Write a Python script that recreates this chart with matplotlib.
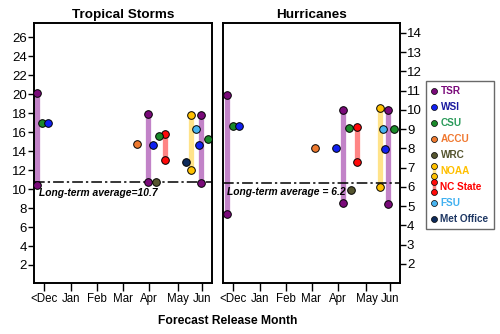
import matplotlib
matplotlib.use("Agg")
import matplotlib.pyplot as plt
from matplotlib.lines import Line2D
from matplotlib.legend_handler import HandlerBase

plt.rcParams['font.family'] = ['Liberation Sans', 'DejaVu Sans']

# Month axis (Dec = 0)
month_labels = ['<Dec', 'Jan', 'Feb', 'Mar', 'Apr', 'May', 'Jun']
month_ticks = [0, 1.02, 2.01, 3.0, 4.0, 5.1, 6.0]

agencies = ['TSR', 'WSI', 'CSU', 'ACCU', 'WRC', 'NOAA', 'NC State', 'FSU', 'Met Office']
dot_colors = {'TSR': '#7a0a7a', 'WSI': '#1020f0', 'CSU': '#1a8a2a', 'ACCU': '#ee7a30',
              'WRC': '#55552f', 'NOAA': '#ffc000', 'NC State': '#ff0a0a',
              'FSU': '#48b4f0', 'Met Office': '#0d2a5a'}
bar_colors = {'TSR': '#c283c8', 'NOAA': '#ffe38a', 'NC State': '#ff8585'}
text_colors = {'TSR': '#7a0a7a', 'WSI': '#1a1aa0', 'CSU': '#2a9a5a', 'ACCU': '#f07830',
               'WRC': '#55552f', 'NOAA': '#ffc000', 'NC State': '#ff0000',
               'FSU': '#40b0f0', 'Met Office': '#1f3864'}

# Tropical storms: range forecasts
ts_bar_agency = ['TSR', 'TSR', 'NC State', 'NOAA', 'TSR']
ts_bar_x = [-0.28, 3.94, 4.59, 5.57, 5.98]
ts_bar_lo = [10.4, 10.7, 13.1, 12.0, 10.6]
ts_bar_hi = [20.1, 17.9, 15.8, 17.8, 17.8]
# Tropical storms: single forecasts
ts_pt_agency = ['CSU', 'WSI', 'ACCU', 'WSI', 'CSU', 'WRC', 'Met Office', 'FSU', 'WSI', 'CSU']
ts_pt_x = [-0.06, 0.14, 3.54, 4.13, 4.35, 4.25, 5.41, 5.79, 5.87, 6.21]
ts_pt_y = [17.0, 17.0, 14.8, 14.7, 15.6, 10.7, 12.9, 16.3, 14.6, 15.3]
ts_avg = 10.7

# Hurricanes: range forecasts
hu_bar_agency = ['TSR', 'TSR', 'NC State', 'NOAA', 'TSR']
hu_bar_x = [-0.23, 4.2, 4.75, 5.62, 5.92]
hu_bar_lo = [4.6, 5.15, 7.3, 6.0, 5.1]
hu_bar_hi = [10.75, 10.0, 9.1, 10.1, 10.0]
# Hurricanes: single forecasts
hu_pt_agency = ['CSU', 'WSI', 'ACCU', 'WSI', 'CSU', 'WRC', 'FSU', 'WSI', 'CSU']
hu_pt_x = [0.0, 0.23, 3.13, 3.95, 4.42, 4.51, 5.72, 5.8, 6.14]
hu_pt_y = [9.16, 9.16, 8.03, 8.03, 9.06, 5.83, 9.0, 7.96, 9.0]
hu_avg = 6.2


def draw_panel(ax, bar_ag, bar_x, bar_lo, bar_hi, pt_ag, pt_x, pt_y, avg):
    for a, x, lo, hi in zip(bar_ag, bar_x, bar_lo, bar_hi):
        ax.plot([x, x], [lo, hi], color=bar_colors[a], lw=3.8, solid_capstyle='butt', zorder=2)
        ax.plot([x, x], [lo, hi], ls='none', marker='o', ms=5.5, mfc=dot_colors[a],
                mec='black', mew=0.7, zorder=4)
    for a, x, y in zip(pt_ag, pt_x, pt_y):
        ax.plot(x, y, marker='o', ms=5.5, mfc=dot_colors[a], mec='black', mew=0.7, zorder=4)
    ax.axhline(avg, color='black', lw=1.1, ls=(0, (7, 2, 1.5, 2)), zorder=3)
    ax.set_xlim(-0.38, 6.38)
    ax.set_xticks(month_ticks)
    ax.set_xticklabels(month_labels, fontsize=8.3)
    ax.tick_params(axis='x', direction='out', length=6, width=1, pad=1)
    for s in ax.spines.values():
        s.set_linewidth(1.4)


fig = plt.figure(figsize=(5.0, 3.34), dpi=100)
ax1 = fig.add_axes([0.068, 0.1527, 0.356, 0.778])
ax2 = fig.add_axes([0.446, 0.1527, 0.354, 0.778])

draw_panel(ax1, ts_bar_agency, ts_bar_x, ts_bar_lo, ts_bar_hi,
           ts_pt_agency, ts_pt_x, ts_pt_y, ts_avg)
ax1.set_ylim(0.1, 27.5)
ax1.set_yticks(range(2, 27, 2))
ax1.tick_params(axis='y', direction='out', length=4, width=1, labelsize=9.5, pad=1)
ax1.set_title('Tropical Storms', fontsize=9.7, fontweight='bold', pad=4)
ax1.text(-0.18, 9.6, 'Long-term average=10.7', fontsize=7.4, fontweight='bold',
         style='italic', va='center', ha='left')

draw_panel(ax2, hu_bar_agency, hu_bar_x, hu_bar_lo, hu_bar_hi,
           hu_pt_agency, hu_pt_x, hu_pt_y, hu_avg)
ax2.set_ylim(1.0, 14.5)
ax2.set_yticks(range(2, 15))
ax2.yaxis.tick_right()
ax2.tick_params(axis='y', direction='out', length=4, width=1, labelsize=9.5, pad=1)
ax2.set_title('Hurricanes', fontsize=9.7, fontweight='bold', pad=4)
ax2.text(-0.21, 5.74, 'Long-term average = 6.2', fontsize=7.4, fontweight='bold',
         style='italic', va='center', ha='left')

fig.text(0.455, 0.040, 'Forecast Release Month', fontsize=8.7, fontweight='bold',
         ha='center', va='center')


class HandlerRange(HandlerBase):
    def create_artists(self, legend, orig_handle, xdescent, ydescent, width, height,
                       fontsize, trans):
        a = orig_handle.get_label()
        cx = width / 2 - xdescent
        y0 = -ydescent - height * 0.25
        y1 = height * 1.25 - ydescent
        bar = Line2D([cx, cx], [y0, y1], color=bar_colors[a], lw=2.5, transform=trans)
        dots = Line2D([cx, cx], [y0, y1], ls='none', marker='o', ms=4.3,
                      mfc=dot_colors[a], mec='black', mew=0.5, transform=trans)
        return [bar, dots]


handles = []
hmap = {}
for a in agencies:
    h = Line2D([], [], ls='none', marker='o', ms=4.3, mfc=dot_colors[a],
               mec='black', mew=0.5, label=a)
    handles.append(h)
    if a in ('NOAA', 'NC State'):
        hmap[h] = HandlerRange()

leg = fig.legend(handles=handles, handler_map=hmap, loc='upper left',
                 bbox_to_anchor=(0.852, 0.756), frameon=True,
                 fancybox=False, edgecolor='#444444', handlelength=0.6,
                 handletextpad=0.35, labelspacing=0.6, borderpad=0.5,
                 borderaxespad=0.0, prop={'weight': 'bold', 'size': 7.2})
leg.get_frame().set_linewidth(1.0)
for t, a in zip(leg.get_texts(), agencies):
    t.set_color(text_colors[a])

fig.savefig('out.png', dpi=100)
